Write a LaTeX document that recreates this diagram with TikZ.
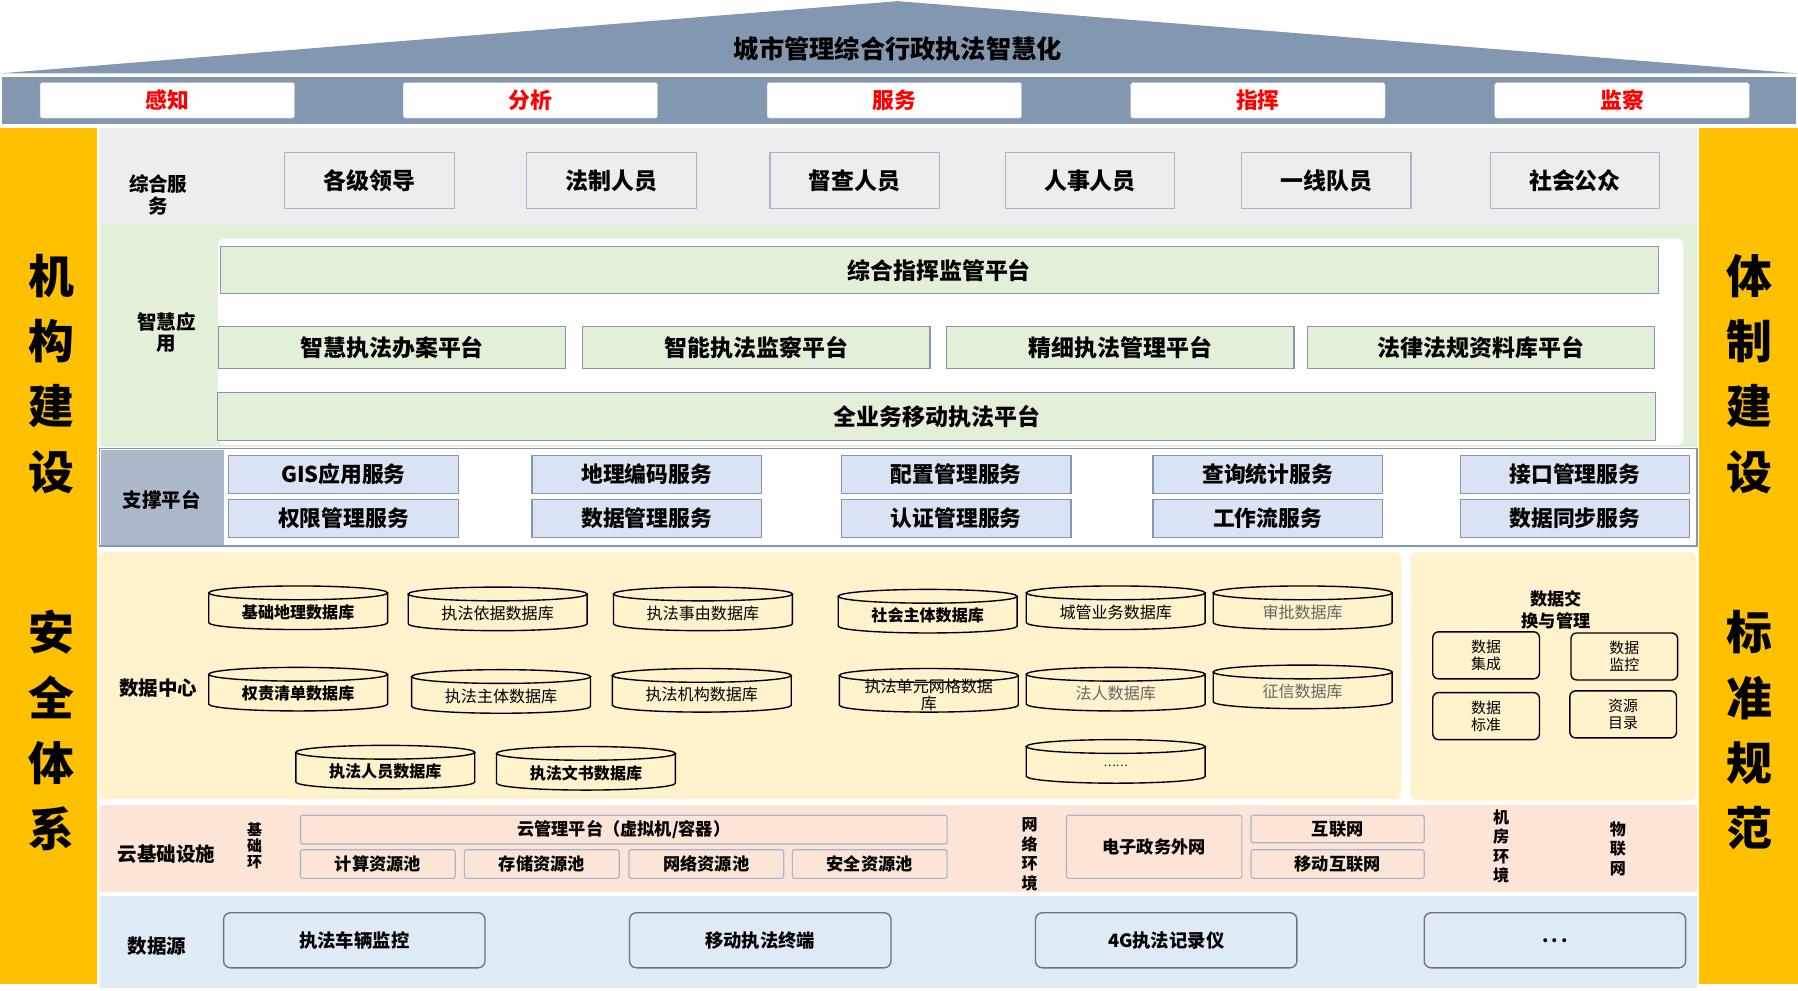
\documentclass[tikz,border=0pt]{standalone}
\usepackage{fontspec}
\setmainfont{Noto Sans CJK SC}
\usetikzlibrary{positioning}
\definecolor{roofgray}{HTML}{8497B0}
\definecolor{pillar}{HTML}{FFC000}
\definecolor{svcgray}{HTML}{EDEDED}
\definecolor{appgreen}{HTML}{E2F0D9}
\definecolor{supblue}{HTML}{DAE3F3}
\definecolor{suplabel}{HTML}{ADB9CA}
\definecolor{datayellow}{HTML}{FFF2CC}
\definecolor{cloudpink}{HTML}{FCE4D6}
\definecolor{srcblue}{HTML}{DEEBF7}
\definecolor{edgeblue}{HTML}{A6B4CC}

\tikzset{
  lane/.style={fill=#1, draw=none},
  lanelabel/.style={font=\fontsize{17}{19}\selectfont\bfseries, align=center},
  pillartext/.style={font=\fontsize{40}{57}\selectfont\bfseries, align=center},
  goalbox/.style={fill=white, draw=roofgray!60, rounded corners=2pt, minimum width=222pt, minimum height=31pt,
    text=red, font=\fontsize{19}{21}\selectfont\bfseries},
  userbox/.style={fill=svcgray, draw=edgeblue, line width=1pt, minimum width=148pt, minimum height=49pt,
    font=\fontsize{20}{22}\selectfont\bfseries},
  appbox/.style={fill=appgreen, draw=roofgray, line width=1pt, minimum height=36pt,
    font=\fontsize{20}{22}\selectfont\bfseries},
  supbox/.style={fill=supblue, draw=roofgray, line width=1pt, minimum width=200pt, minimum height=33pt,
    font=\fontsize{19}{21}\selectfont\bfseries},
  dbtext/.style={font=\fontsize{14}{15}\selectfont, align=center},
  xchbox/.style={draw=black, line width=1.2pt, rounded corners=5pt, minimum width=93pt, minimum height=41pt,
    font=\fontsize{13}{15}\selectfont, align=center},
  cloudbox/.style={fill=cloudpink, draw=edgeblue, line width=1pt, rounded corners=2pt, minimum height=25pt,
    font=\fontsize{15}{17}\selectfont\bfseries},
  srcbox/.style={fill=srcblue, draw=black!55, line width=1.2pt, rounded corners=6pt, minimum width=228pt, minimum height=48pt,
    font=\fontsize{16}{18}\selectfont\bfseries}
}

% database cylinder: name, x, y, text, style
\newcommand\dbcyl[5]{
  \draw[line width=1.2pt, fill=datayellow] (#2-78,#3-13) -- (#2-78,#3+13) arc (180:360:78pt and 6pt) -- (#2+78,#3-13);
  \draw[line width=1.2pt, fill=datayellow] (#2,#3-13) circle [x radius=78pt, y radius=6pt];
  \node[dbtext, #5] (#1) at (#2,#3+4) {#4};
}

\begin{document}
\begin{tikzpicture}[x=1pt, y=-1pt]
  \useasboundingbox (0,0) rectangle (1568,864);

  % roof
  \fill[roofgray] (0,64) -- (783,1) -- (1568,64) -- cycle;
  \fill[roofgray] (2,67) rectangle (1566,108);
  \node[font=\fontsize{22}{24}\selectfont\bfseries] (title) at (783,43) {城市管理综合行政执法智慧化};
  \foreach \x/\t [count=\i] in {146/感知, 462.5/分析, 780/服务, 1097/指挥, 1414.5/监察}
    \node[goalbox] (goal\i) at (\x,87.5) {\t};

  % pillars
  \fill[pillar] (0,112) rectangle (85,858);
  \fill[pillar] (1482,112) rectangle (1568,858);
  \node[pillartext] (leftA) at (45,326) {机\\构\\建\\设};
  \node[pillartext] (leftB) at (45,637) {安\\全\\体\\系};
  \node[pillartext] (rightA) at (1526,326) {体\\制\\建\\设};
  \node[pillartext] (rightB) at (1526,637) {标\\准\\规\\范};

  % users
  \fill[lane=svcgray] (87,112) rectangle (1480,195);
  \node[lanelabel] (svc) at (138,170) {综合服\\务};
  \foreach \x/\t [count=\i] in {322/各级领导, 533.5/法制人员, 745.5/督查人员, 950.5/人事人员, 1156.5/一线队员, 1373.5/社会公众}
    \node[userbox] (user\i) at (\x,157.5) {\t};

  % applications
  \fill[lane=appgreen] (87,195) rectangle (1480,390);
  \fill[white, rounded corners=6pt] (190,208) rectangle (1468,388);
  \node[lanelabel] (app) at (145,290) {智慧应\\用};
  \node[appbox, minimum width=1254pt, minimum height=41pt] (cmd) at (819,235.5) {综合指挥监管平台};
  \foreach \x/\t [count=\i] in {342/智慧执法办案平台, 659.5/智能执法监察平台, 977/精细执法管理平台, 1291.5/法律法规资料库平台}
    \node[appbox, minimum width=303pt] (plat\i) at (\x,303) {\t};
  \node[appbox, minimum width=1254pt, minimum height=42pt] (mobile) at (817,363) {全业务移动执法平台};

  % support platform
  \draw[fill=white, draw=roofgray, line width=1.2pt] (87,391) rectangle (1480,476);
  \fill[suplabel] (88,392) rectangle (195,475);
  \node[lanelabel] (sup) at (141,436) {支撑平台};
  \foreach \x/\a/\b [count=\i] in {299.5/GIS应用服务/权限管理服务, 564/地理编码服务/数据管理服务,
      834/配置管理服务/认证管理服务, 1105.5/查询统计服务/工作流服务, 1373.5/接口管理服务/数据同步服务} {
    \node[supbox] (supA\i) at (\x,413.5) {\a};
    \node[supbox] (supB\i) at (\x,452) {\b};
  }

  % data center
  \fill[lane=datayellow, rounded corners=6pt] (87,481) rectangle (1222,697);
  \node[lanelabel] (data) at (138,600) {数据中心};
  \dbcyl{db1}{260}{530}{基础地理数据库}{font=\fontsize{14}{15}\selectfont\bfseries}
  \dbcyl{db2}{434}{531}{执法依据数据库}{}
  \dbcyl{db3}{613}{531}{执法事由数据库}{}
  \dbcyl{db4}{809}{533}{社会主体数据库}{font=\fontsize{14}{15}\selectfont\bfseries}
  \dbcyl{db5}{973}{530}{城管业务数据库}{}
  \dbcyl{db6}{1136}{530}{审批数据库}{text=black!60}
  \dbcyl{db7}{260}{601}{权责清单数据库}{font=\fontsize{14}{15}\selectfont\bfseries}
  \dbcyl{db8}{437}{603}{执法主体数据库}{}
  \dbcyl{db9}{612}{602}{执法机构数据库}{}
  \dbcyl{db10}{810}{602}{执法单元网格数据\\库}{font=\fontsize{14}{15}\selectfont}
  \dbcyl{db11}{973}{601}{法人数据库}{text=black!60}
  \dbcyl{db12}{1136}{599}{征信数据库}{text=black!60}
  \dbcyl{db13}{336}{669}{执法人员数据库}{font=\fontsize{14}{15}\selectfont\bfseries}
  \dbcyl{db14}{511}{670}{执法文书数据库}{font=\fontsize{14}{15}\selectfont\bfseries}
  \dbcyl{db15}{973}{664}{……}{font=\fontsize{10}{12}\selectfont}

  % data exchange
  \fill[lane=datayellow, rounded corners=6pt] (1230,481) rectangle (1479,698);
  \node[lanelabel, font=\fontsize{15}{19}\selectfont\bfseries] (xch) at (1357,532) {数据交\\换与管理};
  \node[xchbox] (xch1) at (1296,571.5) {数据\\集成};
  \node[xchbox] (xch2) at (1416.5,572.5) {数据\\监控};
  \node[xchbox] (xch3) at (1296,624.5) {数据\\标准};
  \node[xchbox] (xch4) at (1415.5,623) {资源\\目录};

  % cloud infrastructure
  \fill[lane=cloudpink] (87,702) rectangle (1480,778);
  \node[lanelabel] (cloud) at (145,745) {云基础设施};
  \node[font=\fontsize{13}{14}\selectfont\bfseries, align=center] (base) at (222,738) {基\\础\\环};
  \node[cloudbox, minimum width=564pt] (mgmt) at (544,723.5) {云管理平台（虚拟机/容器）};
  \foreach \x/\t [count=\i] in {329.5/计算资源池, 472.5/存储资源池, 616/网络资源池, 758.5/安全资源池}
    \node[cloudbox, minimum width=135pt] (pool\i) at (\x,753.5) {\t};
  \node[font=\fontsize{14}{17}\selectfont\bfseries, align=center] (net) at (898,745) {网\\络\\环\\境};
  \node[cloudbox, minimum width=153pt, minimum height=55pt] (gov) at (1006.5,738.5) {电子政务外网};
  \node[cloudbox, minimum width=151pt, minimum height=24pt] (inet) at (1166.5,723) {互联网};
  \node[cloudbox, minimum width=151pt, minimum height=25pt] (minet) at (1166.5,753.5) {移动互联网};
  \node[font=\fontsize{14}{17}\selectfont\bfseries, align=center] (room) at (1309,738) {机\\房\\环\\境};
  \node[font=\fontsize{14}{17}\selectfont\bfseries, align=center] (iot) at (1411,740) {物\\联\\网};

  % data sources
  \fill[lane=srcblue] (87,781) rectangle (1480,862);
  \node[lanelabel] (src) at (137,825) {数据源};
  \foreach \x/\t [count=\i] in {309/执法车辆监控, 663/移动执法终端, 1017/4G执法记录仪, 1356/{.\,.\,.}}
    \node[srcbox] (srcdev\i) at (\x,820) {\t};
\end{tikzpicture}
\end{document}
